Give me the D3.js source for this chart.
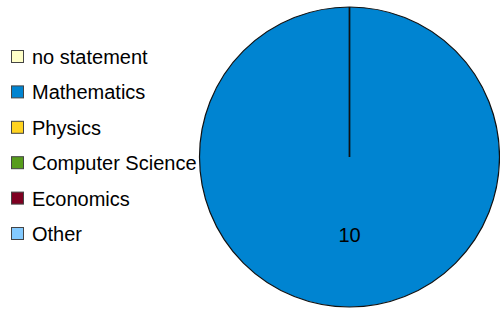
<!DOCTYPE html>
<html>
<head>
<meta charset="utf-8">
<script src="https://cdn.jsdelivr.net/npm/d3@7"></script>
<style>
body{margin:0;background:#fff;}
text{font-family:"Liberation Sans",Arial,sans-serif;}
</style>
</head>
<body>
<div class="canvas"></div>
<script>
const categories=["no statement","Mathematics","Physics","Computer Science","Economics","Other"];
const counts=[0,10,0,0,0,0];
const colors=["#ffffc8","#0084d1","#ffd320","#579d1c","#7e0021","#83caff"];

const canvasWidth=500,
canvasHeight=309,
cx=349.5,
cy=157,
radius=150;

const svg=d3.select(".canvas")
  .append("svg")
  .attr("width",canvasWidth)
  .attr("height",canvasHeight);

const data=categories.map((c,i)=>({name:c,value:counts[i],color:colors[i]}));

const pie=d3.pie().sort(null).value(d=>d.value);
const arc=d3.arc().innerRadius(0).outerRadius(radius);
const labelArc=d3.arc().innerRadius(radius*0.52).outerRadius(radius*0.52);

const g=svg.append("g").attr("transform",`translate(${cx},${cy})`);

const slices=pie(data);

g.selectAll("path")
  .data(slices)
  .enter()
  .append("path")
  .attr("d",arc)
  .attr("fill",d=>d.data.color)
  .attr("stroke","#111")
  .attr("stroke-width",1.2);

g.selectAll("text")
  .data(slices.filter(d=>d.data.value>0))
  .enter()
  .append("text")
  .attr("transform",d=>`translate(${labelArc.centroid(d)})`)
  .attr("text-anchor","middle")
  .attr("dy","0.35em")
  .style("font-size","20px")
  .text(d=>d.data.value);

// legend
const legendY=d3.scalePoint().domain(categories).range([57,234]);

const legend=svg.append("g").selectAll("g")
  .data(data)
  .enter()
  .append("g")
  .attr("transform",d=>`translate(0,${legendY(d.name)})`);

legend.append("rect")
  .attr("x",11.5)
  .attr("y",-6.5)
  .attr("width",12)
  .attr("height",12)
  .attr("fill",d=>d.color)
  .attr("stroke","#444")
  .attr("stroke-width",1);

legend.append("text")
  .attr("x",32)
  .attr("dy","0.35em")
  .style("font-size","20px")
  .text(d=>d.name);
</script>
</body>
</html>
